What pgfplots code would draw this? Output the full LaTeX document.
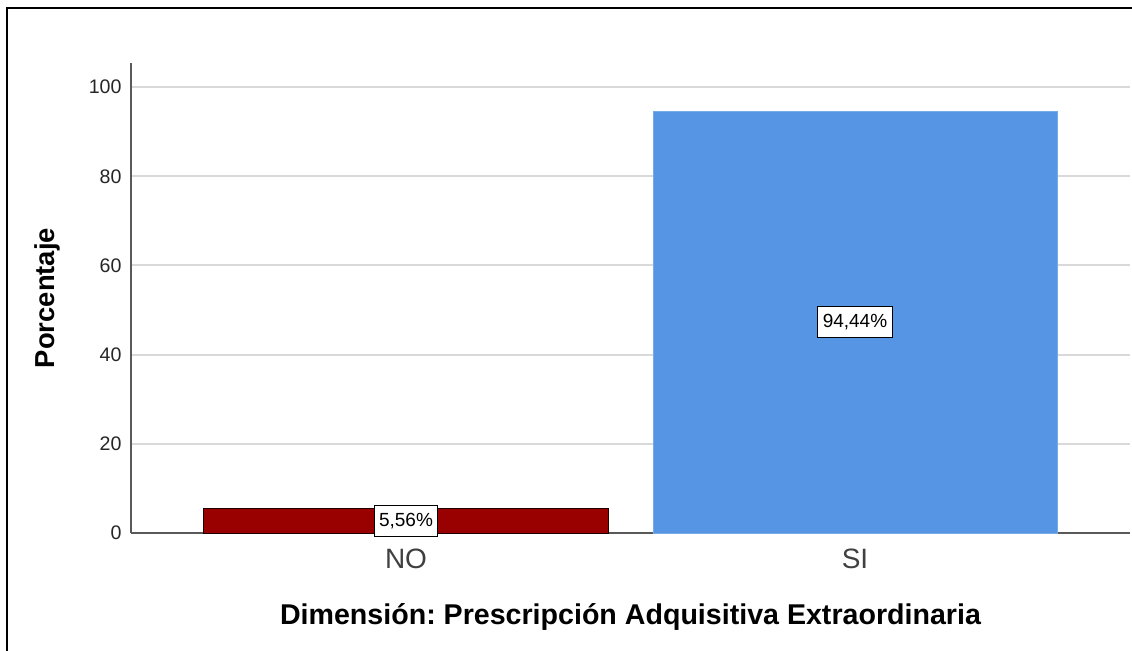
\documentclass[border=0pt]{standalone}
\usepackage{pgfplots}
\pgfplotsset{compat=1.18}
\usepackage{fontspec}
\setmainfont{Liberation Sans}
\frenchspacing
\definecolor{barred}{RGB}{153,0,0}
\definecolor{barblue}{RGB}{85,149,227}
\begin{document}
\begin{tikzpicture}
\useasboundingbox (0,0) rectangle (566pt,325pt);
\draw[line width=1.3pt] (3.5pt,-5pt) -- (3.5pt,321pt) -- (575pt,321pt);
\begin{axis}[
  at={(65.5pt,58.5pt)}, anchor=south west,
  scale only axis, width=499.5pt, height=235pt,
  xmin=-0.6125, xmax=1.6125, ymin=0, ymax=105.4,
  axis x line=bottom, axis y line=left,
  axis line style={-, draw=black!65, line width=0.7pt},
  xtick={0,1}, xticklabels={NO,SI},
  ytick={0,20,40,60,80,100},
  major tick length=0pt,
  ymajorgrids, grid style={draw=black!15, line width=1pt},
  /pgf/number format/assume math mode=true,
  yticklabel style={font=\fontsize{9.8}{11}\selectfont, text=black!85, xshift=-1.2pt},
  xticklabel style={font=\fontsize{14}{15}\selectfont, text=black!75, yshift=-4.4pt},
  xlabel={Dimensión: Prescripción Adquisitiva Extraordinaria},
  ylabel={Porcentaje},
  xlabel style={font=\bfseries\fontsize{14.3}{16}\selectfont, at={(axis description cs:0.5,-0.1957)}, anchor=base},
  ylabel style={font=\bfseries\fontsize{13.7}{15}\selectfont, at={(axis description cs:-0.0761,0.5)}, anchor=base},
]
\addplot[ybar, bar shift=0pt, bar width=0.9, fill=barred, draw=black!80!barred, line width=0.5pt] coordinates {(0,5.56)};
\addplot[ybar, bar shift=0pt, bar width=0.9, fill=barblue, draw=barblue!80!white, line width=0.4pt] coordinates {(1,94.44)};
\addplot[draw=none, mark=none, nodes near coords, point meta=explicit symbolic,
  nodes near coords style={anchor=center, fill=white, draw=black, line width=0.5pt, text=black,
    font=\fontsize{9.5}{10}\selectfont, inner xsep=2.5pt, inner ysep=0pt, minimum height=15.5pt}]
  coordinates {(0,2.78) [5,56\%] (1,47.22) [94,44\%]};
\end{axis}
\end{tikzpicture}
\end{document}
